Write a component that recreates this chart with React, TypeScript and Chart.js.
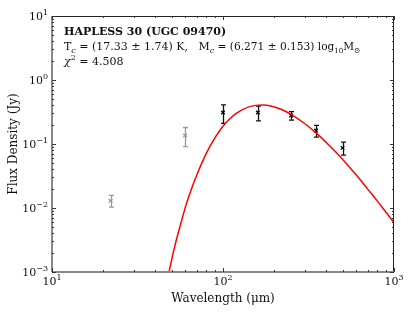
import React, { useEffect, useRef } from "react";
import { Chart, registerables } from "chart.js";

Chart.register(...registerables);

// Model curve
const curveWave = [48, 52, 56, 61, 65, 70, 80, 90, 100, 110, 120, 130, 145, 160, 172, 190, 220, 250, 300, 350, 420, 500, 600, 700, 800, 900, 1000];
const curveFlux = [0.00092, 0.0024, 0.0051, 0.0115, 0.019, 0.032, 0.072, 0.127, 0.19, 0.25, 0.303, 0.345, 0.387, 0.405, 0.407, 0.393, 0.346, 0.291, 0.209, 0.149, 0.094, 0.058, 0.033, 0.0199, 0.0128, 0.0085, 0.0059];

// Fitted photometry (black)
const fitWave = [100, 160, 250, 350, 500];
const fitFlux = [0.31, 0.31, 0.278, 0.162, 0.087];
const fitErr = [0.1, 0.08, 0.042, 0.034, 0.02];

// Unfitted photometry (grey)
const extraWave = [22, 60];
const extraFlux = [0.013, 0.136];
const extraErr = [0.0027, 0.045];

// Tick labels
const xMajor = [10, 100, 1000];
const xMajorExp = ["1", "2", "3"];
const yMajor = [10, 1, 0.1, 0.01, 0.001];
const yMajorExp = ["1", "0", "\u22121", "\u22122", "\u22123"];

const xTitle = "Wavelength (\u03BCm)";
const yTitle = "Flux Density (Jy)";
const nameLine = "HAPLESS 30 (UGC 09470)";
const tempText = ["17.33", "1.74"];
const massText = ["6.271", "0.153"];
const chiText = "4.508";

const SERIF = "'DejaVu Serif', serif";

type Part = { t: string; size: number; dy?: number; style?: string };

function drawParts(ctx: CanvasRenderingContext2D, parts: Part[], x: number, y: number, align: "left" | "center" | "right" = "left") {
  let total = 0;
  for (const p of parts) {
    ctx.font = `${p.style || ""} ${p.size}px ${SERIF}`;
    total += ctx.measureText(p.t).width;
  }
  let cx = x;
  if (align === "center") cx = x - total / 2;
  if (align === "right") cx = x - total;
  ctx.textAlign = "left";
  ctx.textBaseline = "alphabetic";
  for (const p of parts) {
    ctx.font = `${p.style || ""} ${p.size}px ${SERIF}`;
    ctx.fillText(p.t, cx, y + (p.dy || 0));
    cx += ctx.measureText(p.t).width;
  }
}

const decorPlugin = {
  id: "decor",
  beforeDatasetsDraw(chart: any) {
    const ctx = chart.ctx as CanvasRenderingContext2D;
    const xs = chart.scales.x;
    const ys = chart.scales.y;
    const drawBars = (w: number[], f: number[], e: number[], color: string) => {
      ctx.save();
      ctx.strokeStyle = color;
      ctx.lineWidth = 1.3;
      for (let i = 0; i < w.length; i++) {
        const px = Math.round(xs.getPixelForValue(w[i])) + 0.5;
        const top = ys.getPixelForValue(f[i] + e[i]);
        const bot = ys.getPixelForValue(f[i] - e[i]);
        ctx.beginPath();
        ctx.moveTo(px, top);
        ctx.lineTo(px, bot);
        ctx.moveTo(px - 2.5, top);
        ctx.lineTo(px + 2.5, top);
        ctx.moveTo(px - 2.5, bot);
        ctx.lineTo(px + 2.5, bot);
        ctx.stroke();
      }
      ctx.restore();
    };
    drawBars(extraWave, extraFlux, extraErr, "#9a9a9a");
    drawBars(fitWave, fitFlux, fitErr, "#111111");
  },
  afterDraw(chart: any) {
    const ctx = chart.ctx as CanvasRenderingContext2D;
    const a = chart.chartArea;
    const xs = chart.scales.x;
    const ys = chart.scales.y;
    ctx.save();
    // frame
    ctx.strokeStyle = "#222";
    ctx.lineWidth = 1;
    ctx.beginPath();
    ctx.moveTo(a.left, a.top + 0.5);
    ctx.lineTo(a.right, a.top + 0.5);
    ctx.moveTo(a.right - 0.5, a.top);
    ctx.lineTo(a.right - 0.5, a.bottom);
    ctx.stroke();
    ctx.strokeStyle = "#888";
    ctx.lineWidth = 2;
    ctx.beginPath();
    ctx.moveTo(a.left, a.bottom);
    ctx.lineTo(a.right, a.bottom);
    ctx.moveTo(a.left, a.top);
    ctx.lineTo(a.left, a.bottom);
    ctx.stroke();

    // ticks
    ctx.strokeStyle = "#333";
    ctx.lineWidth = 1;
    ctx.beginPath();
    const xDec = [10, 100];
    for (const d of xDec) {
      for (let m = 1; m <= 10; m++) {
        const v = d * m;
        const px = Math.round(xs.getPixelForValue(v)) + 0.5;
        const len = m === 1 || m === 10 ? 4 : 2;
        ctx.moveTo(px, a.bottom);
        ctx.lineTo(px, a.bottom - len);
        ctx.moveTo(px, a.top);
        ctx.lineTo(px, a.top + len);
      }
    }
    const yDec = [0.001, 0.01, 0.1, 1];
    for (const d of yDec) {
      for (let m = 1; m <= 10; m++) {
        const v = d * m;
        const py = Math.round(ys.getPixelForValue(v)) + 0.5;
        const len = m === 1 || m === 10 ? 4 : 2;
        ctx.moveTo(a.left, py);
        ctx.lineTo(a.left + len, py);
        ctx.moveTo(a.right, py);
        ctx.lineTo(a.right - len, py);
      }
    }
    ctx.stroke();

    // tick labels
    ctx.fillStyle = "#111";
    for (let i = 0; i < xMajor.length; i++) {
      const px = xs.getPixelForValue(xMajor[i]);
      drawParts(ctx, [{ t: "10", size: 11 }, { t: xMajorExp[i], size: 8, dy: -5 }], px, a.bottom + 13, "center");
    }
    for (let i = 0; i < yMajor.length; i++) {
      const py = ys.getPixelForValue(yMajor[i]);
      drawParts(ctx, [{ t: "10", size: 11 }, { t: yMajorExp[i], size: 8, dy: -5 }], a.left - 4, py + 4, "right");
    }

    // axis titles
    drawParts(ctx, [{ t: xTitle, size: 12 }], (a.left + a.right) / 2, a.bottom + 30, "center");
    ctx.save();
    ctx.translate(17, (a.top + a.bottom) / 2);
    ctx.rotate(-Math.PI / 2);
    drawParts(ctx, [{ t: yTitle, size: 12 }], 0, 0, "center");
    ctx.restore();

    // annotation
    const tx = a.left + 12;
    drawParts(ctx, [{ t: nameLine, size: 11, style: "bold" }], tx, 35);
    drawParts(
      ctx,
      [
        { t: "T", size: 11 },
        { t: "c", size: 8, dy: 2.5, style: "italic" },
        { t: ` = (${tempText[0]} \u00B1 ${tempText[1]}) K,   M`, size: 11 },
        { t: "c", size: 8, dy: 2.5, style: "italic" },
        { t: ` = (${massText[0]} \u00B1 ${massText[1]}) log`, size: 10.6 },
        { t: "10", size: 7, dy: 2.5 },
        { t: "M", size: 10.6 },
        { t: "\u2299", size: 7.5, dy: 2.5 },
      ],
      tx,
      50
    );
    drawParts(
      ctx,
      [
        { t: "\u03C7", size: 11, style: "italic" },
        { t: "2", size: 8, dy: -5 },
        { t: ` = ${chiText}`, size: 11 },
      ],
      tx,
      65
    );
    ctx.restore();
  },
};

export default function App() {
  const ref = useRef<HTMLCanvasElement | null>(null);
  useEffect(() => {
    document.body.style.margin = "0";
    const canvas = ref.current;
    if (!canvas) return;
    const chart = new Chart(canvas, {
      type: "scatter",
      data: {
        datasets: [
          {
            type: "line",
            data: curveWave.map((w, i) => ({ x: w, y: curveFlux[i] })),
            borderColor: "#ff0000",
            borderWidth: 1.5,
            pointRadius: 0,
            fill: false,
            cubicInterpolationMode: "monotone",
          } as any,
          {
            data: fitWave.map((w, i) => ({ x: w, y: fitFlux[i] })),
            pointStyle: "crossRot",
            pointRadius: 2.5,
            borderColor: "#000",
            backgroundColor: "#000",
            pointBorderWidth: 1.3,
          } as any,
          {
            data: extraWave.map((w, i) => ({ x: w, y: extraFlux[i] })),
            pointStyle: "crossRot",
            pointRadius: 2.5,
            borderColor: "#9a9a9a",
            backgroundColor: "#9a9a9a",
            pointBorderWidth: 1.3,
          } as any,
        ],
      },
      options: {
        responsive: false,
        animation: false,
        layout: { padding: { left: 52, right: 21, top: 16, bottom: 40 } },
        plugins: { legend: { display: false }, tooltip: { enabled: false } },
        scales: {
          x: { type: "logarithmic", min: 10, max: 1000, display: false },
          y: { type: "logarithmic", min: 0.001, max: 10, display: false },
        },
      },
      plugins: [decorPlugin],
    });
    return () => chart.destroy();
  }, []);
  return (
    <div style={{ width: 415, height: 312 }}>
      <canvas ref={ref} width={415} height={312} style={{ display: "block" }} />
    </div>
  );
}
